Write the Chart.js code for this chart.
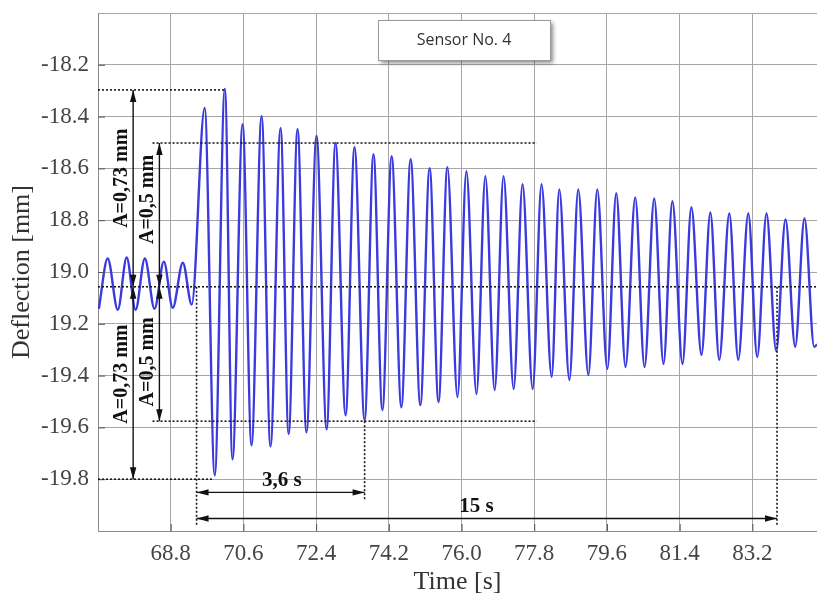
<!DOCTYPE html>
<html><head><meta charset="utf-8">
<script src="https://cdn.jsdelivr.net/npm/chart.js@4.4.1/dist/chart.umd.min.js"></script>
<style>html,body{margin:0;padding:0;background:#fff;overflow:hidden}</style>
</head><body>
<canvas id="c" width="817" height="598"></canvas>
<script>
// ---- data ----
const seriesLabel = 'Sensor No. 4';
const times = [67.02,67.24,67.49,67.71,67.93,68.16,68.40,68.63,68.85,69.10,69.32,
  69.64,69.89,70.14,70.33,70.58,70.80,71.05,71.27,71.52,71.72,
  71.94,72.16,72.41,72.66,72.88,73.13,73.35,73.60,73.82,74.04,
  74.27,74.51,74.74,74.98,75.21,75.43,75.65,75.90,76.12,76.37,
  76.59,76.82,77.04,77.29,77.51,77.76,77.98,78.23,78.42,78.67,
  78.89,79.14,79.36,79.61,79.83,80.06,80.30,80.53,80.77,81.00,
  81.22,81.47,81.69,81.94,82.16,82.38,82.63,82.85,83.10,83.32,
  83.55,83.79,84.02,84.26,84.49,84.73,84.80];
const deflection = [-19.142,-18.948,-19.146,-18.944,-19.146,-18.948,-19.142,-18.960,-19.138,-18.964,-19.126,
  -18.367,-19.785,-18.293,-19.723,-18.429,-19.669,-18.398,-19.673,-18.444,-19.626,
  -18.448,-19.619,-18.475,-19.607,-18.502,-19.553,-18.518,-19.572,-18.545,-19.533,
  -18.553,-19.522,-18.564,-19.514,-18.599,-19.502,-18.595,-19.483,-18.611,-19.471,
  -18.630,-19.456,-18.630,-19.452,-18.661,-19.452,-18.661,-19.405,-18.681,-19.417,
  -18.681,-19.398,-18.681,-19.374,-18.696,-19.367,-18.712,-19.367,-18.716,-19.355,
  -18.727,-19.355,-18.750,-19.320,-18.770,-19.339,-18.774,-19.339,-18.774,-19.328,
  -18.774,-19.305,-18.797,-19.289,-18.793,-19.289,-19.280];
const xMin = 67.0, xMax = 84.8;
const xTicks = [67.0,68.8,70.6,72.4,74.2,76.0,77.8,79.6,81.4,83.2];
const xTickLabels = ['','68.8','70.6','72.4','74.2','76.0','77.8','79.6','81.4','83.2'];
const yMin = -20.0, yMax = -18.0;
const yTicks = [-20.0,-19.8,-19.6,-19.4,-19.2,-19.0,-18.8,-18.6,-18.4,-18.2,-18.0];
const yTickLabels = ['','-19.8','-19.6','-19.4','19.2','19.0','18.8','-18.6','-18.4','-18.2',''];
// annotations (data coordinates)
const meanLevel = -19.057;
const hDotted = [[-18.297,67.0,70.14],[-18.502,68.35,77.86],[meanLevel,67.0,84.8],[-19.576,68.35,77.86],[-19.800,67.0,69.84]];
const vDotted = [[69.44,meanLevel,-19.98],[73.60,-19.576,-19.882],[83.81,meanLevel,-19.98]];
const vArrows = [[67.87,-18.297,meanLevel],[67.87,meanLevel,-19.800],[68.52,-18.502,meanLevel],[68.52,meanLevel,-19.576]];
const hArrows = [[-19.851,69.44,73.60],[-19.952,69.44,83.81]];
const rotLabels = [['A=0,73 mm',67.59,-18.638],['A=0,73 mm',67.59,-19.394],['A=0,5 mm',68.23,-18.72],['A=0,5 mm',68.23,-19.347]];
const flatLabels = [['3,6 s',71.55,-19.805],['15 s',76.37,-19.905]];

function labelFor(list, labels, v){
  let best=0, bd=1e9;
  list.forEach((t,i)=>{const d=Math.abs(t-v); if(d<bd){bd=d;best=i;}});
  return bd<1e-6?labels[best]:'';
}

function arrowHead(ctx, x, y, dx, dy){
  const len=12, hw=3.2;
  const bx=x-dx*len, by=y-dy*len;
  ctx.beginPath();
  ctx.moveTo(x,y);
  ctx.lineTo(bx-dy*hw, by+dx*hw);
  ctx.lineTo(bx+dy*hw, by-dx*hw);
  ctx.closePath();
  ctx.fill();
}

const annotPlugin = {
  id:'annot',
  afterDatasetsDraw(chart){
    const {ctx, scales:{x,y}} = chart;
    const X=v=>x.getPixelForValue(v), Y=v=>y.getPixelForValue(v);
    ctx.save();
    // inner tick marks
    ctx.strokeStyle='#555'; ctx.lineWidth=1;
    xTicks.slice(1).forEach(t=>{ctx.beginPath();ctx.moveTo(X(t)+0.5,chart.chartArea.bottom);ctx.lineTo(X(t)+0.5,chart.chartArea.bottom-7);ctx.stroke();});
    yTicks.slice(1,-1).forEach(v=>{ctx.beginPath();ctx.moveTo(chart.chartArea.left,Y(v)+0.5);ctx.lineTo(chart.chartArea.left+7,Y(v)+0.5);ctx.stroke();});
    // dotted lines
    ctx.setLineDash([2,2]); ctx.lineWidth=1.6; ctx.strokeStyle='#1a1a1a';
    hDotted.forEach(([v,t0,t1])=>{ctx.beginPath();ctx.moveTo(X(t0),Y(v));ctx.lineTo(X(t1),Y(v));ctx.stroke();});
    vDotted.forEach(([t,v0,v1])=>{ctx.beginPath();ctx.moveTo(X(t),Y(v0));ctx.lineTo(X(t),Y(v1));ctx.stroke();});
    ctx.setLineDash([]);
    // arrows
    ctx.lineWidth=1.4; ctx.strokeStyle='#111'; ctx.fillStyle='#111';
    vArrows.forEach(([t,v0,v1])=>{
      const px=X(t), p0=Y(v0), p1=Y(v1);
      ctx.beginPath();ctx.moveTo(px,p0);ctx.lineTo(px,p1);ctx.stroke();
      const s=Math.sign(p1-p0);
      arrowHead(ctx,px,p0,0,-s); arrowHead(ctx,px,p1,0,s);
    });
    hArrows.forEach(([v,t0,t1])=>{
      const py=Y(v), p0=X(t0), p1=X(t1);
      ctx.beginPath();ctx.moveTo(p0,py);ctx.lineTo(p1,py);ctx.stroke();
      arrowHead(ctx,p0,py,-1,0); arrowHead(ctx,p1,py,1,0);
    });
    // labels
    ctx.fillStyle='#111';
    ctx.font='bold 20px "Liberation Serif"';
    ctx.textAlign='center'; ctx.textBaseline='middle';
    rotLabels.forEach(([txt,t,v])=>{
      ctx.save(); ctx.translate(X(t),Y(v)); ctx.rotate(-Math.PI/2); ctx.fillText(txt,0,0); ctx.restore();
    });
    ctx.font='bold 21px "Liberation Serif"';
    flatLabels.forEach(([txt,t,v])=>{ctx.fillText(txt,X(t),Y(v));});
    ctx.restore();
  },
  afterDraw(chart){
    const ctx=chart.ctx;
    const bx=378, by=20, bw=172, bh=40;
    ctx.save();
    ctx.shadowColor='rgba(0,0,0,0.45)'; ctx.shadowBlur=4; ctx.shadowOffsetX=3; ctx.shadowOffsetY=3;
    ctx.fillStyle='#fff'; ctx.fillRect(bx,by,bw,bh);
    ctx.shadowColor='transparent';
    ctx.strokeStyle='#9a9a9a'; ctx.lineWidth=1; ctx.strokeRect(bx+0.5,by+0.5,bw,bh);
    ctx.fillStyle='#333'; ctx.font='16px "Open Sans"'; ctx.textAlign='center'; ctx.textBaseline='middle';
    ctx.fillText(chart.data.datasets[0].label, bx+bw/2, by+bh/2);
    ctx.restore();
  }
};

new Chart(document.getElementById('c'), {
  type:'line',
  data:{datasets:[{
    label: seriesLabel,
    data: times.map((t,i)=>({x:t,y:deflection[i]})),
    borderColor:'rgb(58,58,222)', borderWidth:2.4, pointRadius:0,
    cubicInterpolationMode:'monotone', fill:false
  }]},
  options:{
    responsive:false, animation:false,
    layout:{padding:{top:13,left:0,right:0,bottom:0}},
    plugins:{legend:{display:false}, tooltip:{enabled:false}},
    scales:{
      x:{type:'linear', min:xMin, max:xMax,
        afterBuildTicks:s=>{s.ticks=xTicks.map(v=>({value:v}));},
        afterFit:s=>{s.height=67; s.paddingLeft=0; s.paddingRight=0;},
        ticks:{callback:v=>labelFor(xTicks,xTickLabels,v), autoSkip:false, maxRotation:0,
          font:{family:'Liberation Serif',size:23}, color:'#444', padding:9},
        grid:{color:'#a6a6a6', drawTicks:false},
        border:{color:'#8a8a8a'},
        title:{display:true, text:'Time [s]', font:{family:'Liberation Serif',size:26}, color:'#333', padding:{top:0,bottom:0}}
      },
      y:{type:'linear', min:yMin, max:yMax,
        afterBuildTicks:s=>{s.ticks=yTicks.map(v=>({value:v}));},
        afterFit:s=>{s.width=98; s.paddingTop=0; s.paddingBottom=0;},
        ticks:{callback:v=>labelFor(yTicks,yTickLabels,v), autoSkip:false,
          font:{family:'Liberation Serif',size:23}, color:'#444', padding:9},
        grid:{color:'#a6a6a6', drawTicks:false},
        border:{color:'#8a8a8a'},
        title:{display:true, text:'Deflection [mm]', font:{family:'Liberation Serif',size:26}, color:'#333', padding:{top:7,bottom:0}}
      }
    }
  },
  plugins:[annotPlugin]
});
</script>
</body></html>
